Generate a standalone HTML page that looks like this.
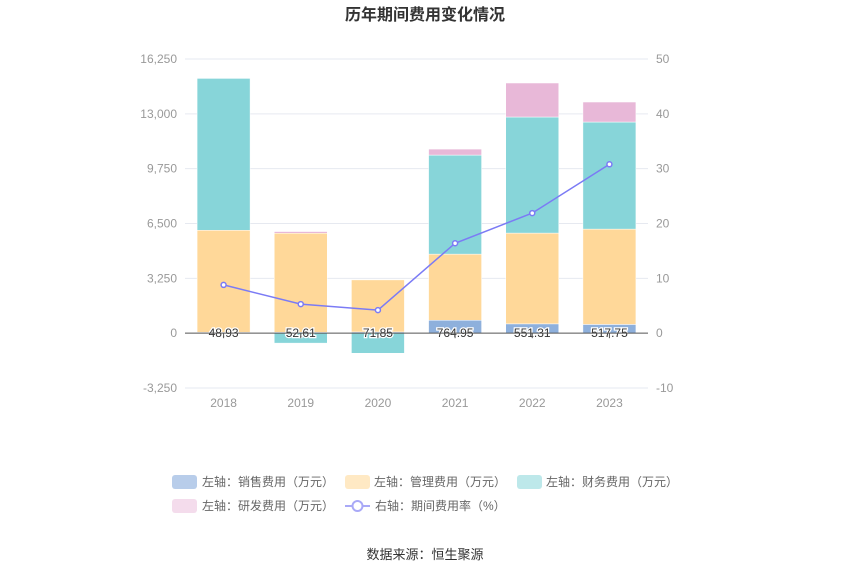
<!DOCTYPE html>
<html><head><meta charset="utf-8"><style>
body{margin:0;background:#fff;width:850px;height:575px;overflow:hidden;font-family:"Liberation Sans","Noto Sans CJK SC",sans-serif}
svg text{font-family:"Liberation Sans","Noto Sans CJK SC",sans-serif}
</style></head><body>
<svg id="c" width="850" height="575">
<text x="425" y="20" text-anchor="middle" font-size="16" font-weight="bold" fill="#333">历年期间费用变化情况</text>
<g id="grid"></g><g id="bars"></g><g id="line"></g><g id="labels"></g><g id="axes"></g>
<g id="legend" font-size="12" fill="#666">
<g><rect x="172" y="475" width="25" height="14" rx="3" fill="#b8cdea"/><text x="202" y="486">左轴：销售费用（万元）</text></g>
<g><rect x="345" y="475" width="25" height="14" rx="3" fill="#ffe9c4"/><text x="374" y="486">左轴：管理费用（万元）</text></g>
<g><rect x="517" y="475" width="25" height="14" rx="3" fill="#bde8ea"/><text x="546" y="486">左轴：财务费用（万元）</text></g>
<g><rect x="172" y="499" width="25" height="14" rx="3" fill="#f4dcec"/><text x="202" y="510">左轴：研发费用（万元）</text></g>
<g><line x1="345" y1="506" x2="370" y2="506" stroke="#a9a9f7" stroke-width="2"/><circle cx="357.5" cy="506" r="5" fill="#fff" stroke="#a9a9f7" stroke-width="2"/><text x="375" y="510">右轴：期间费用率（%）</text></g>
</g>
<text x="425" y="559" text-anchor="middle" font-size="13" fill="#333">数据来源：恒生聚源</text>
</svg>
<script>
const categories=["2018","2019","2020","2021","2022","2023"];
const sales=[48.93,52.61,71.85,764.95,551.31,517.75];
const management=[6050,5870,3085,3920,5380,5650];
const finance=[9000,-590,-1190,5870,6880,6346];
const rnd=[0,100,0,355,2016,1186];
const rate=[8.8,5.3,4.2,16.4,21.9,30.8];
const leftTicks=[-3250,0,3250,6500,9750,13000,16250];
const rightTicks=[-10,0,10,20,30,40,50];
const NS="http://www.w3.org/2000/svg";
const X0=185,X1=648,YT=59,YB=388;
const yL=v=>YB-(v+3250)/19500*(YB-YT);
const yR=v=>YB-(v+10)/60*(YB-YT);
const bw=(X1-X0)/categories.length;
const xC=i=>X0+bw*(i+0.5);
function mk(t,a,p){const e=document.createElementNS(NS,t);for(const k in a)e.setAttribute(k,a[k]);p.appendChild(e);return e;}
const G=id=>document.getElementById(id);
leftTicks.forEach((v,i)=>{
 if(v!==0){const l=mk('line',{x1:X0,x2:X1,y1:yL(v),y2:yL(v),stroke:'#e6e9f0'},G('grid'));
 
 }
 const t=mk('text',{x:177,y:yL(v)+4,'text-anchor':'end','font-size':12,fill:'#999'},G('axes'));t.textContent=v.toLocaleString('en-US');
 
 
 const r=mk('text',{x:656,y:yR(rightTicks[i])+4,'font-size':12,fill:'#999'},G('axes'));r.textContent=rightTicks[i];
 
 
});
const z=mk('line',{x1:X0,x2:X1,y1:yL(0),y2:yL(0),stroke:'#555'},G('axes'));


const series=[[sales,'#8eb0dc','bar-sales'],[management,'#ffd899','bar-management'],[finance,'#87d5d9','bar-finance'],[rnd,'#e8b8d8','bar-rnd']];
categories.forEach((c,i)=>{
 let pos=0,neg=0;const w=53,x=xC(i)-w/2;
 series.forEach(([arr,col,name])=>{
  const v=arr[i];if(!v)return;let a,b;
  if(v>=0){a=pos;b=pos+v;pos=b;}else{a=neg;b=neg+v;neg=b;}
  const r=mk('rect',{x:x,width:w,y:Math.min(yL(a),yL(b)),height:Math.abs(yL(a)-yL(b)),fill:col,stroke:'#fff','stroke-width':0.5},G('bars'));
  
  
 });
 const tk=mk('line',{x1:xC(i),x2:xC(i),y1:yL(0),y2:yL(0)+5,stroke:'#555'},G('axes'));
 
 
 const t=mk('text',{x:xC(i),y:407,'text-anchor':'middle','font-size':12,fill:'#999'},G('axes'));t.textContent=c;
 
 
 const l=mk('text',{x:xC(i),y:yL(0)+4,'text-anchor':'middle','font-size':12,fill:'#333',stroke:'#fff','stroke-width':2.5,'paint-order':'stroke'},G('labels'));l.textContent=sales[i].toFixed(2);
 
 
});
const pl=mk('polyline',{points:rate.map((v,i)=>xC(i)+','+yR(v)).join(' '),fill:'none',stroke:'#7b7bf5','stroke-width':1.5},G('line'));


rate.forEach((v,i)=>{const p=mk('circle',{cx:xC(i),cy:yR(v),r:2.5,fill:'#fff',stroke:'#7b7bf5','stroke-width':1.5},G('line'));
 
 });
</script>
</body></html>
